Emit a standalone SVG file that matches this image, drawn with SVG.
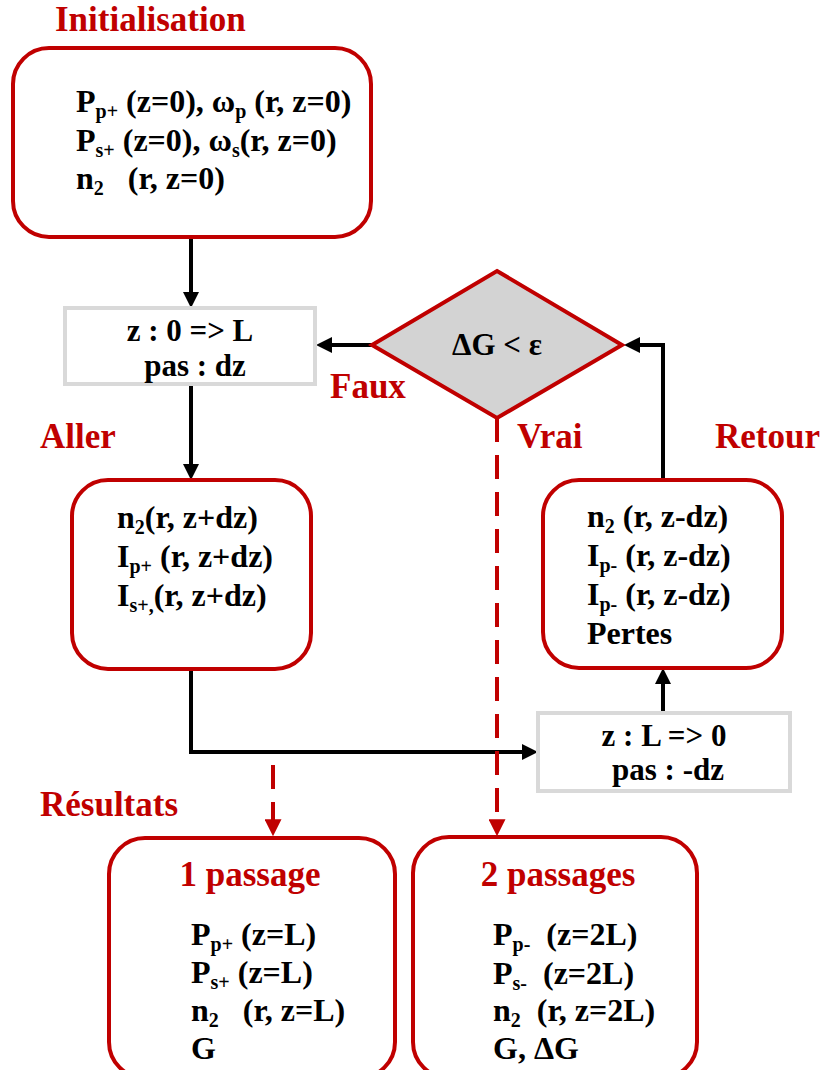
<svg xmlns="http://www.w3.org/2000/svg" width="822" height="1070" viewBox="0 0 822 1070">
<defs>
<style>
text{font-family:'Liberation Serif','DejaVu Serif',serif;font-weight:bold;white-space:pre}
.t{fill:#000;font-size:32px}
.g{fill:#000;font-size:31px}
.lbl{fill:#c00000;font-size:35px}
.sub{font-size:20px}
.box{fill:#fff;stroke:#c00000;stroke-width:4}
.gbox{fill:#fff;stroke:#d9d9d9;stroke-width:4}
.dia{fill:#d3d3d3;stroke:#c00000;stroke-width:4}
.c{fill:none;stroke:#000;stroke-width:4;marker-end:url(#ab)}
.cd{fill:none;stroke:#c00000;stroke-width:4;stroke-dasharray:24,13;marker-end:url(#ar)}
</style>
<marker id="ab" viewBox="0 0 10 10" refX="7.5" refY="5" markerWidth="16" markerHeight="16" markerUnits="userSpaceOnUse" orient="auto"><path d="M0,0 L10,5 L0,10 z" fill="#000"/></marker>
<marker id="ar" viewBox="0 0 10 10" refX="7.5" refY="5" markerWidth="17" markerHeight="17" markerUnits="userSpaceOnUse" orient="auto"><path d="M0,0 L10,5 L0,10 z" fill="#c00000"/></marker>
</defs>
<rect width="822" height="1070" fill="#fff"/>

<g id="connectors">
<path class="c" d="M191,238 V304"/>
<path class="c" d="M191,386 V476"/>
<path class="c" d="M191,670 V752 H534"/>
<path class="c" d="M663,713 V672"/>
<path class="c" d="M663,480 V345 H628"/>
<path class="c" d="M372,345 H320"/>
<path class="cd" d="M497,418 V832"/>
<path class="cd" d="M273,765 V832"/>
</g>

<g id="labels">
<text class="lbl" x="55" y="31">Initialisation</text>
<text class="lbl" x="40" y="448">Aller</text>
<text class="lbl" x="715" y="448">Retour</text>
<text class="lbl" x="330" y="398">Faux</text>
<text class="lbl" x="517" y="448">Vrai</text>
<text class="lbl" x="40" y="816">Résultats</text>
</g>

<g id="init">
<rect class="box" x="13" y="48" width="358" height="189" rx="36"/>
<text class="t" x="76" y="112">P<tspan class="sub" dy="6">p+</tspan><tspan dy="-6"> (z=0), ω</tspan><tspan class="sub" dy="6">p</tspan><tspan dy="-6"> (r, z=0)</tspan></text>
<text class="t" x="76" y="151">P<tspan class="sub" dy="6">s+</tspan><tspan dy="-6"> (z=0), ω</tspan><tspan class="sub" dy="6">s</tspan><tspan dy="-6">(r, z=0)</tspan></text>
<text class="t" x="76" y="189">n<tspan class="sub" dy="6">2</tspan><tspan dy="-6">   (r, z=0)</tspan></text>
</g>

<g id="loop1">
<rect class="gbox" x="65" y="308" width="250" height="76"/>
<text class="g" x="190" y="341" text-anchor="middle">z : 0 =&gt; L</text>
<text class="g" x="195" y="376" text-anchor="middle">pas : dz</text>
</g>

<g id="decision">
<polygon class="dia" points="497,271 622,345 497,418 372,345"/>
<text class="g" x="497" y="355" text-anchor="middle">ΔG &lt; ε</text>
</g>

<g id="aller">
<rect class="box" x="72" y="480" width="239" height="189" rx="36"/>
<text class="t" x="117" y="528">n<tspan class="sub" dy="6">2</tspan><tspan dy="-6">(r, z+dz)</tspan></text>
<text class="t" x="117" y="567">I<tspan class="sub" dy="6">p+</tspan><tspan dy="-6"> (r, z+dz)</tspan></text>
<text class="t" x="117" y="606">I<tspan class="sub" dy="6">s+,</tspan><tspan dy="-6">(r, z+dz)</tspan></text>
</g>

<g id="retour">
<rect class="box" x="543" y="480" width="239" height="188" rx="36"/>
<text class="t" x="587" y="527">n<tspan class="sub" dy="6">2</tspan><tspan dy="-6"> (r, z-dz)</tspan></text>
<text class="t" x="587" y="566">I<tspan class="sub" dy="6">p-</tspan><tspan dy="-6"> (r, z-dz)</tspan></text>
<text class="t" x="587" y="605">I<tspan class="sub" dy="6">p-</tspan><tspan dy="-6"> (r, z-dz)</tspan></text>
<text class="t" x="587" y="644">Pertes</text>
</g>

<g id="loop2">
<rect class="gbox" x="538" y="713" width="252" height="78"/>
<text class="g" x="664" y="746" text-anchor="middle">z : L =&gt; 0</text>
<text class="g" x="668" y="780" text-anchor="middle">pas : -dz</text>
</g>

<g id="res1">
<rect class="box" x="109" y="838" width="286" height="240" rx="36"/>
<text class="lbl" x="250" y="886" text-anchor="middle">1 passage</text>
<text class="t" x="191" y="945">P<tspan class="sub" dy="6">p+</tspan><tspan dy="-6"> (z=L)</tspan></text>
<text class="t" x="191" y="983">P<tspan class="sub" dy="6">s+</tspan><tspan dy="-6"> (z=L)</tspan></text>
<text class="t" x="191" y="1021">n<tspan class="sub" dy="6">2</tspan><tspan dy="-6">   (r, z=L)</tspan></text>
<text class="t" x="191" y="1059">G</text>
</g>

<g id="res2">
<rect class="box" x="413" y="837" width="284" height="241" rx="36"/>
<text class="lbl" x="558" y="886" text-anchor="middle">2 passages</text>
<text class="t" x="493" y="945">P<tspan class="sub" dy="6">p-</tspan><tspan dy="-6">  (z=2L)</tspan></text>
<text class="t" x="493" y="984">P<tspan class="sub" dy="6">s-</tspan><tspan dy="-6">  (z=2L)</tspan></text>
<text class="t" x="493" y="1021">n<tspan class="sub" dy="6">2</tspan><tspan dy="-6">  (r, z=2L)</tspan></text>
<text class="t" x="493" y="1059">G, ΔG</text>
</g>
</svg>
